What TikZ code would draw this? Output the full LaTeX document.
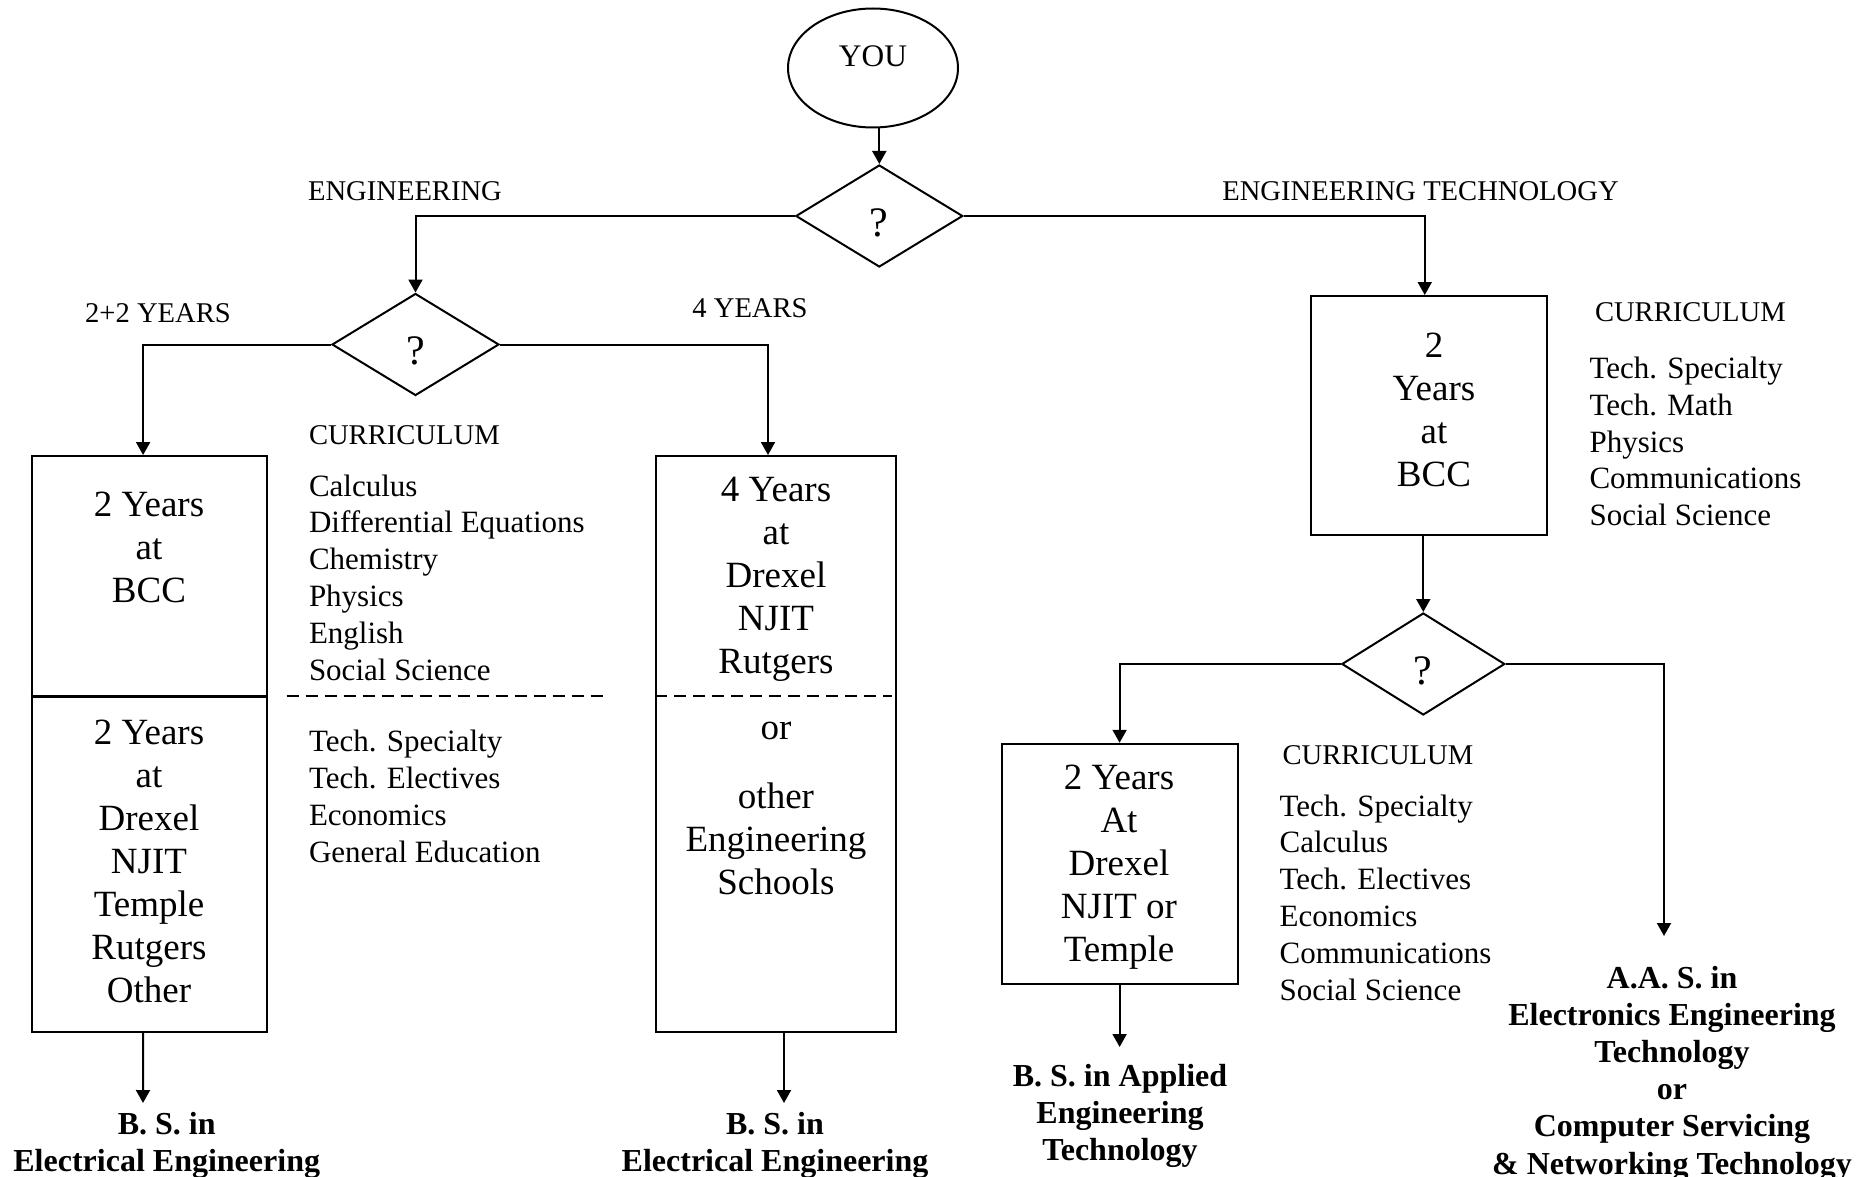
\documentclass[tikz,border=0pt]{standalone}
\usepackage{fontspec}
\setmainfont{Liberation Serif}
\usetikzlibrary{shapes.geometric,arrows.meta}
\begin{document}
\begin{tikzpicture}[x=0.5pt,y=-0.5pt,
  line width=1pt,
  arr/.style={-{Triangle[length=6.5pt,width=7pt]}},
  dia/.style={draw,diamond,minimum width=83.5pt,minimum height=51pt,inner sep=0pt},
  qm/.style={font=\fontsize{21}{24}\selectfont,inner sep=0pt},
  box/.style={draw,rectangle,inner sep=0pt},
  lbl/.style={font=\fontsize{14.3}{16}\selectfont,inner sep=0pt},
  curhead/.style={lbl,anchor=west},
  cur/.style={font=\fontsize{15.5}{18.4}\selectfont,align=left,inner sep=0pt,anchor=west},
  btxt/.style={font=\fontsize{18.5}{21.5}\selectfont,align=center,inner sep=0pt},
  res/.style={font=\bfseries\fontsize{16}{18.6}\selectfont,align=center,inner sep=0pt}]
\useasboundingbox (0,0) rectangle (1870,1177);

% top
\node[draw,ellipse,minimum width=85pt,minimum height=59.5pt,inner sep=0pt] (you) at (873,68) {};
\node[font=\fontsize{15.7}{18}\selectfont,inner sep=0pt] (yout) at (873,56) {YOU};
\node[dia] (d1) at (879.3,216) {};
\node[qm] (q1) at ([yshift=-3.25pt]d1.center) {?};
\node[dia] (d2) at (415.5,344.5) {};
\node[qm] (q2) at ([yshift=-3.25pt]d2.center) {?};
\node[dia,minimum width=81.5pt] (d3) at (1423.3,664) {};
\node[qm] (q3) at ([yshift=-3.5pt]d3.center) {?};

% labels
\node[lbl] (leng) at (405,191) {ENGINEERING};
\node[lbl] (let) at (1420.5,191) {ENGINEERING TECHNOLOGY};
\node[lbl] (l22) at (158,313) {2+2 YEARS};
\node[lbl] (l4) at (750,308) {4 YEARS};

% boxes
\node[box,minimum width=117.6pt,minimum height=288pt] (box1) at (149.1,744) {};
\node[box,minimum width=120pt,minimum height=288pt] (box2) at (776,744) {};
\node[box,minimum width=117.75pt,minimum height=119.5pt] (box3) at (1428.75,415.5) {};
\node[box,minimum width=118pt,minimum height=120.1pt] (box4) at (1119.6,863.9) {};

\draw[line width=1.5pt] ([yshift=24pt]box1.west) -- ([yshift=24pt]box1.east);
\draw[dash pattern=on 6pt off 3.5pt] ([yshift=24pt]box2.west) -- ([yshift=24pt,xshift=-2.5pt]box2.east);
\draw[dash pattern=on 6pt off 3.5pt] (286.7,696) -- (608,696);

% box texts
\node[btxt] (b1a) at (149,547) {2 Years\\at\\BCC};
\node[btxt] (b1b) at (149,861.5) {2 Years\\at\\Drexel\\NJIT\\Temple\\Rutgers\\Other};
\node[btxt] (b2a) at (776,579) {4 Years\\at\\Drexel\\NJIT\\Rutgers};
\node[btxt] (b2or) at (776,731) {or};
\node[btxt] (b2b) at (776,839) {other\\Engineering\\Schools};
\node[btxt] (b3) at (1434,410) {2\\Years\\at\\BCC};
\node[btxt] (b4) at (1119,867) {2 Years\\At\\Drexel\\NJIT or\\Temple};

% curricula
\node[curhead] (chL) at (308,435.5) {CURRICULUM};
\node[cur] (cL1) at (308,577.5) {Calculus\\Differential Equations\\Chemistry\\Physics\\English\\Social Science};
\node[cur] (cL2) at (308,796.5) {Tech. Specialty\\Tech. Electives\\Economics\\General Education};
\node[curhead] (chR) at (1594,312) {CURRICULUM};
\node[cur] (cR) at (1588.5,441.5) {Tech. Specialty\\Tech. Math\\Physics\\Communications\\Social Science};
\node[curhead] (chM) at (1281.6,755.6) {CURRICULUM};
\node[cur] (cM) at (1278.6,897.5) {Tech. Specialty\\Calculus\\Tech. Electives\\Economics\\Communications\\Social Science};

% results
\node[res] (bs1) at (166.7,1145.5) {B. S. in\\Electrical Engineering};
\node[res] (bs2) at (775,1145.5) {B. S. in\\Electrical Engineering};
\node[res] (bsa) at (1120,1116) {B. S. in Applied\\Engineering\\Technology};
\node[res] (aas) at (1672,1073.5) {A.A. S. in\\Electronics Engineering\\Technology\\or\\Computer Servicing\\\& Networking Technology};

\coordinate (tip1) at (143,1103);
\coordinate (tip2) at (784,1103);
\coordinate (tip3) at (1664,936);
\coordinate (tip4) at (1119.6,1047);

% connectors
\draw[arr] (you.south -| d1.north) -- (d1.north);
\draw[arr] (d1.west) -| (d2.north);
\draw[arr] (d1.east) -| ([xshift=-2pt]box3.north);
\draw[arr] (d2.west) -| ([xshift=-3pt]box1.north);
\draw[arr] (d2.east) -| ([xshift=-4pt]box2.north);
\draw[arr] ([xshift=-3pt]box1.south) -- (tip1);
\draw[arr] ([xshift=4pt]box2.south) -- (tip2);
\draw[arr] (d3.north |- box3.south) -- (d3.north);
\draw[arr] (d3.west) -| (box4.north);
\draw[arr] (d3.east) -| (tip3);
\draw[arr] (box4.south) -- (tip4);
\end{tikzpicture}
\end{document}
